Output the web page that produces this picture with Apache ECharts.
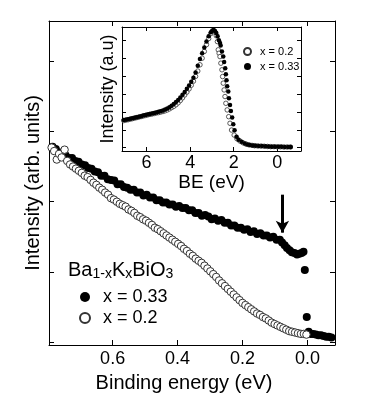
<!DOCTYPE html>
<html>
<head>
<meta charset="utf-8">
<script src="https://cdn.jsdelivr.net/npm/echarts@6/dist/echarts.min.js"></script>
<style>
  html, body { margin: 0; padding: 0; background: #fff; }
  #chart { width: 381px; height: 412px; }
</style>
</head>
<body>
<div id="chart"></div>
<script>
// main panel: x = 0.33 (filled) and x = 0.2 (open), [binding energy, intensity]
const mainK033 = [
  [0.785, 2.78], [0.775, 2.75], [0.765, 2.70], [0.755, 2.70], [0.745, 2.66], [0.735, 2.62],
  [0.725, 2.62], [0.715, 2.58], [0.705, 2.57], [0.695, 2.53], [0.685, 2.52], [0.675, 2.48],
  [0.665, 2.47], [0.655, 2.43], [0.645, 2.42], [0.635, 2.37], [0.625, 2.37], [0.615, 2.32],
  [0.605, 2.31], [0.595, 2.30], [0.585, 2.25], [0.575, 2.25], [0.565, 2.21], [0.555, 2.20],
  [0.545, 2.17], [0.535, 2.17], [0.525, 2.13], [0.515, 2.13], [0.505, 2.09], [0.495, 2.10],
  [0.485, 2.06], [0.475, 2.06], [0.465, 2.02], [0.455, 2.02], [0.445, 1.99], [0.435, 1.99],
  [0.425, 1.96], [0.415, 1.96], [0.405, 1.93], [0.395, 1.94], [0.385, 1.91], [0.375, 1.91],
  [0.365, 1.88], [0.355, 1.88], [0.345, 1.84], [0.335, 1.84], [0.325, 1.80], [0.315, 1.81],
  [0.305, 1.79], [0.295, 1.75], [0.285, 1.76], [0.275, 1.73], [0.265, 1.74], [0.255, 1.70],
  [0.245, 1.70], [0.235, 1.66], [0.225, 1.66], [0.215, 1.63], [0.205, 1.63], [0.195, 1.60],
  [0.185, 1.61], [0.175, 1.57], [0.165, 1.58], [0.155, 1.54], [0.145, 1.55], [0.135, 1.52],
  [0.125, 1.52], [0.115, 1.49], [0.105, 1.50], [0.095, 1.46], [0.085, 1.46], [0.078, 1.42],
  [0.070, 1.38], [0.063, 1.34], [0.055, 1.31], [0.048, 1.28], [0.040, 1.27], [0.032, 1.25],
  [0.025, 1.26], [0.018, 1.27], [0.012, 1.29], [0.008, 1.03], [0.002, 0.36], [-0.004, 0.15],
  [-0.010, 0.12], [-0.018, 0.12], [-0.026, 0.11], [-0.034, 0.10], [-0.042, 0.10], [-0.050, 0.09],
  [-0.058, 0.08], [-0.066, 0.08], [-0.074, 0.07]
];
const mainK020 = [
  [0.788, 2.77], [0.780, 2.72], [0.772, 2.60], [0.765, 2.68], [0.757, 2.63], [0.748, 2.74],
  [0.740, 2.58], [0.731, 2.53], [0.722, 2.50], [0.713, 2.47], [0.704, 2.44], [0.695, 2.41],
  [0.686, 2.37], [0.677, 2.35], [0.668, 2.31], [0.659, 2.27], [0.650, 2.24], [0.641, 2.20],
  [0.632, 2.17], [0.623, 2.13], [0.614, 2.10], [0.605, 2.05], [0.596, 2.03], [0.587, 2.00],
  [0.578, 1.97], [0.569, 1.95], [0.560, 1.93], [0.551, 1.89], [0.542, 1.87], [0.533, 1.84],
  [0.524, 1.80], [0.515, 1.78], [0.506, 1.75], [0.497, 1.73], [0.488, 1.70], [0.479, 1.67],
  [0.470, 1.63], [0.461, 1.61], [0.452, 1.58], [0.443, 1.55], [0.434, 1.52], [0.425, 1.49],
  [0.416, 1.46], [0.407, 1.43], [0.398, 1.40], [0.389, 1.37], [0.380, 1.33], [0.371, 1.30],
  [0.362, 1.26], [0.353, 1.23], [0.344, 1.19], [0.335, 1.16], [0.326, 1.13], [0.317, 1.09],
  [0.308, 1.05], [0.299, 1.01], [0.290, 0.97], [0.281, 0.93], [0.272, 0.88], [0.263, 0.84],
  [0.254, 0.80], [0.245, 0.76], [0.236, 0.72], [0.227, 0.68], [0.218, 0.64], [0.209, 0.60],
  [0.200, 0.56], [0.191, 0.53], [0.182, 0.50], [0.173, 0.47], [0.164, 0.44], [0.155, 0.41],
  [0.146, 0.39], [0.137, 0.36], [0.128, 0.34], [0.119, 0.31], [0.110, 0.28], [0.101, 0.26],
  [0.092, 0.24], [0.083, 0.22], [0.074, 0.20], [0.065, 0.18], [0.056, 0.16], [0.047, 0.15],
  [0.038, 0.14], [0.029, 0.13], [0.020, 0.12], [0.011, 0.12], [0.003, 0.11]
];
// inset: wide-range spectra, [BE, intensity]
const insetK033 = [
  [7.05, 1.55], [6.95, 1.57], [6.85, 1.60], [6.75, 1.62], [6.65, 1.65], [6.55, 1.68], [6.45, 1.71],
  [6.35, 1.74], [6.25, 1.77], [6.15, 1.80], [6.05, 1.83], [5.95, 1.86], [5.85, 1.89], [5.75, 1.92],
  [5.65, 1.95], [5.55, 1.98], [5.45, 2.01], [5.35, 2.05], [5.25, 2.09], [5.15, 2.14], [5.05, 2.20],
  [4.95, 2.27], [4.85, 2.35], [4.75, 2.45], [4.65, 2.56], [4.55, 2.68], [4.45, 2.82], [4.35, 2.97],
  [4.25, 3.13], [4.15, 3.30], [4.05, 3.49], [3.95, 3.70], [3.85, 3.93], [3.75, 4.22], [3.65, 4.60],
  [3.55, 4.97], [3.45, 5.30], [3.35, 5.62], [3.25, 5.95], [3.15, 6.25], [3.05, 6.48], [2.98, 6.58],
  [2.92, 6.60], [2.86, 6.55], [2.80, 6.43], [2.74, 6.25], [2.68, 6.02], [2.63, 5.87], [2.60, 5.73],
  [2.54, 5.39], [2.48, 5.11], [2.44, 4.80], [2.39, 4.46], [2.36, 4.12], [2.33, 3.79], [2.30, 3.45],
  [2.25, 3.15], [2.22, 2.78], [2.17, 2.40], [2.13, 2.06], [2.07, 1.69], [2.02, 1.31], [1.96, 0.98],
  [1.87, 0.62], [1.78, 0.45], [1.64, 0.34], [1.50, 0.24], [1.38, 0.18], [1.26, 0.15], [1.12, 0.12],
  [1.00, 0.11], [0.85, 0.10], [0.70, 0.09], [0.55, 0.08], [0.40, 0.07], [0.25, 0.06], [0.10, 0.06],
  [-0.05, 0.05], [-0.20, 0.05], [-0.35, 0.04], [-0.50, 0.04], [-0.62, 0.04]
];
const insetK020 = [
  [7.05, 1.52], [6.95, 1.55], [6.85, 1.57], [6.75, 1.60], [6.65, 1.63], [6.55, 1.66], [6.45, 1.69],
  [6.35, 1.72], [6.25, 1.75], [6.15, 1.78], [6.05, 1.81], [5.95, 1.84], [5.85, 1.87], [5.75, 1.89],
  [5.65, 1.92], [5.55, 1.95], [5.45, 1.97], [5.35, 2.00], [5.25, 2.03], [5.15, 2.07], [5.05, 2.12],
  [4.95, 2.18], [4.85, 2.25], [4.75, 2.32], [4.65, 2.41], [4.55, 2.52], [4.45, 2.65], [4.35, 2.80],
  [4.25, 2.96], [4.15, 3.12], [4.05, 3.30], [3.95, 3.50], [3.85, 3.73], [3.75, 4.00], [3.65, 4.30],
  [3.55, 4.65], [3.45, 5.02], [3.35, 5.40], [3.25, 5.78], [3.15, 6.12], [3.05, 6.40], [2.98, 6.52],
  [2.92, 6.56], [2.86, 6.48], [2.80, 6.28], [2.75, 5.95], [2.71, 5.49], [2.67, 5.30], [2.63, 5.11],
  [2.59, 4.74], [2.54, 4.37], [2.51, 3.99], [2.48, 3.62], [2.44, 3.24], [2.40, 2.87], [2.36, 2.49],
  [2.30, 2.12], [2.23, 1.74], [2.17, 1.37], [2.10, 0.99], [1.98, 0.71], [1.85, 0.50], [1.72, 0.38],
  [1.58, 0.28], [1.44, 0.21], [1.30, 0.16], [1.16, 0.13], [1.04, 0.11], [0.90, 0.10], [0.75, 0.09],
  [0.60, 0.08], [0.45, 0.07], [0.30, 0.06], [0.15, 0.06], [0.00, 0.05], [-0.15, 0.05], [-0.30, 0.04],
  [-0.45, 0.04], [-0.60, 0.04]
];

const mainXTicks = [0, 0.2, 0.4, 0.6];
const mainYTicks = [0, 1, 2, 3, 4];
const insetXTicks = [0, 2, 4, 6];
const insetYTicks = [0, 1, 2, 3, 4, 5, 6];

const FONT = 'Liberation Sans, Arial, sans-serif';

function frameAxis(opt) {
  // inward ticks, black frame line
  return Object.assign({
    type: 'value',
    axisLine: { show: true, onZero: false, lineStyle: { color: '#000', width: 1 } },
    axisTick: { show: true, inside: true, length: 5, lineStyle: { color: '#000' } },
    axisLabel: { show: false },
    splitLine: { show: false }
  }, opt);
}

const chart = echarts.init(document.getElementById('chart'));
chart.setOption({
  animation: false,
  backgroundColor: '#fff',
  textStyle: { fontFamily: FONT, color: '#000' },
  grid: [
    { left: 49, top: 21, width: 286, height: 324 },
    { left: 122, top: 27, width: 179, height: 124, show: true, backgroundColor: '#fff', borderWidth: 0, z: 3 }
  ],
  title: {
    left: 63, top: 255,
    text: '{b|Ba}{s|1-x}{b|K}{s|x}{b|BiO}{s|3}',
    textStyle: {
      fontWeight: 'normal',
      rich: {
        b: { fontSize: 20, fontFamily: FONT, fontWeight: 'normal', color: '#000', verticalAlign: 'bottom' },
        s: { fontSize: 14, fontFamily: FONT, fontWeight: 'normal', color: '#000', verticalAlign: 'bottom', padding: [0, 0, -1, 0] }
      }
    }
  },
  legend: [
    {
      data: ['x = 0.33', 'x = 0.2'], orient: 'vertical', left: 74, top: 283,
      itemWidth: 10, itemHeight: 10, itemGap: 3,
      textStyle: { fontSize: 18, fontFamily: FONT, color: '#000', padding: [0, 0, 0, 8], lineHeight: 18 }
    },
    {
      data: ['x = 0.2', 'x = 0.33'], orient: 'vertical', left: 238, top: 41, z: 5,
      itemWidth: 7, itemHeight: 7, itemGap: 4,
      textStyle: { fontSize: 11, fontFamily: FONT, color: '#000', padding: [0, 0, 0, 4], lineHeight: 11 }
    }
  ],
  xAxis: [
    frameAxis({
      gridIndex: 0, min: -0.085, max: 0.796, inverse: true, position: 'bottom',
      axisTick: { show: true, inside: true, length: 5, customValues: mainXTicks, lineStyle: { color: '#000' } },
      axisLabel: { show: true, customValues: mainXTicks, fontSize: 18, color: '#000', margin: 5,
        formatter: v => v.toFixed(1) },
      name: 'Binding energy (eV)', nameLocation: 'middle', nameGap: 28,
      nameTextStyle: { fontSize: 20, color: '#000', padding: [0, 16, 0, 0] }
    }),
    frameAxis({
      gridIndex: 0, min: -0.085, max: 0.796, inverse: true, position: 'top',
      axisTick: { show: true, inside: true, length: 5, customValues: mainXTicks, lineStyle: { color: '#000' } }
    }),
    frameAxis({
      gridIndex: 1, min: -1.09, max: 7.13, inverse: true, position: 'bottom', z: 4,
      axisTick: { show: true, inside: true, length: 4, customValues: insetXTicks, lineStyle: { color: '#000' } },
      axisLabel: { show: true, customValues: insetXTicks, fontSize: 18, color: '#000', margin: 3 },
      name: 'BE (eV)', nameLocation: 'middle', nameGap: 22,
      nameTextStyle: { fontSize: 19, color: '#000' }
    }),
    frameAxis({
      gridIndex: 1, min: -1.09, max: 7.13, inverse: true, position: 'top', z: 4,
      axisTick: { show: true, inside: true, length: 4, customValues: insetXTicks, lineStyle: { color: '#000' } }
    })
  ],
  yAxis: [
    frameAxis({
      gridIndex: 0, min: -0.038, max: 4.57, position: 'left',
      axisTick: { show: true, inside: true, length: 5, customValues: mainYTicks, lineStyle: { color: '#000' } },
      name: 'Intensity (arb. units)', nameLocation: 'middle', nameGap: 6,
      nameTextStyle: { fontSize: 20, color: '#000' }
    }),
    frameAxis({
      gridIndex: 0, min: -0.038, max: 4.57, position: 'right',
      axisTick: { show: true, inside: true, length: 5, customValues: mainYTicks, lineStyle: { color: '#000' } }
    }),
    frameAxis({
      gridIndex: 1, min: -0.185, max: 6.77, position: 'left', z: 4,
      axisTick: { show: true, inside: true, length: 4, customValues: insetYTicks, lineStyle: { color: '#000' } },
      name: 'Intensity (a.u)', nameLocation: 'middle', nameGap: 5,
      nameTextStyle: { fontSize: 18, color: '#000' }
    }),
    frameAxis({
      gridIndex: 1, min: -0.185, max: 6.77, position: 'right', z: 4,
      axisTick: { show: true, inside: true, length: 4, customValues: insetYTicks, lineStyle: { color: '#000' } }
    })
  ],
  series: [
    {
      name: 'x = 0.33', type: 'scatter', xAxisIndex: 0, yAxisIndex: 0, data: mainK033,
      symbol: 'circle', symbolSize: 8, itemStyle: { color: '#000', opacity: 1 },
      markLine: {
        silent: true, symbol: ['none', 'arrow'], symbolSize: [10, 12],
        lineStyle: { color: '#000', width: 3, type: 'solid' }, label: { show: false },
        data: [[{ coord: [0.077, 2.1] }, { coord: [0.077, 1.56] }]]
      }
    },
    {
      name: 'x = 0.2', type: 'scatter', xAxisIndex: 0, yAxisIndex: 0, data: mainK020,
      symbol: 'circle', symbolSize: 7.5,
      itemStyle: { color: '#fff', borderColor: '#333', borderWidth: 1, opacity: 1 }
    },
    {
      name: 'x = 0.2', type: 'scatter', xAxisIndex: 2, yAxisIndex: 2, data: insetK020, z: 5,
      symbol: 'circle', symbolSize: 4.5,
      itemStyle: { color: '#fff', borderColor: '#333', borderWidth: 0.8, opacity: 1 }
    },
    {
      name: 'x = 0.33', type: 'scatter', xAxisIndex: 2, yAxisIndex: 2, data: insetK033, z: 5,
      symbol: 'circle', symbolSize: 4.5, itemStyle: { color: '#000', opacity: 1 }
    }
  ]
});
</script>
</body>
</html>
